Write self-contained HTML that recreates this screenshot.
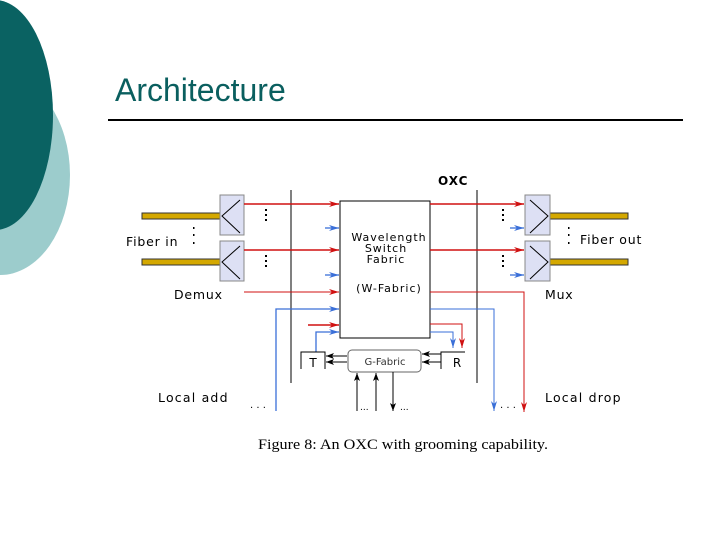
<!DOCTYPE html>
<html><head><meta charset="utf-8"><style>
html,body{margin:0;padding:0;background:#fff;}
svg{display:block;}
text{font-family:"DejaVu Sans","Liberation Sans",sans-serif;}
</style></head><body>
<svg width="720" height="540" viewBox="0 0 720 540" xmlns="http://www.w3.org/2000/svg">
<defs>
<marker id="ar" markerWidth="10" markerHeight="6" refX="10" refY="3" orient="auto" markerUnits="userSpaceOnUse"><path d="M0,0 L10,3 L0,6 L3,3 z" fill="#d01010"/></marker>
<marker id="ab" markerWidth="10" markerHeight="6" refX="10" refY="3" orient="auto" markerUnits="userSpaceOnUse"><path d="M0,0 L10,3 L0,6 L3,3 z" fill="#3a6fd8"/></marker>
<marker id="ak" markerWidth="8" markerHeight="6" refX="8" refY="3" orient="auto" markerUnits="userSpaceOnUse"><path d="M0,0 L8,3 L0,6 L2,3 z" fill="#000"/></marker>
</defs>
<ellipse cx="0" cy="175" rx="70" ry="100" fill="#9ccccc"/>
<ellipse cx="-5" cy="115" rx="58" ry="115" fill="#0a6262"/>
<text x="115" y="101" font-size="32" fill="#0a5f5f" style="font-family:'Liberation Sans',sans-serif">Architecture</text>
<line x1="108" y1="120" x2="683" y2="120" stroke="#000" stroke-width="2"/>

<g font-size="12.5" fill="#000">
<text x="438" y="185" font-weight="bold" font-size="12" letter-spacing="1">OXC</text>
<text x="126" y="246" letter-spacing="0.8">Fiber in</text>
<text x="580" y="244" letter-spacing="0.8">Fiber out</text>
<text x="174" y="299" letter-spacing="0.8">Demux</text>
<text x="545" y="299" letter-spacing="0.8">Mux</text>
<text x="158" y="402" letter-spacing="1.2">Local add</text>
<text x="545" y="402" letter-spacing="1.2">Local drop</text>
<text x="250" y="408" font-size="10">. . .</text>
<text x="500" y="408" font-size="10">. . .</text>
<text x="360" y="410" font-size="9">...</text>
<text x="400" y="410" font-size="9">...</text>
</g>
<g fill="#d4a800" stroke="#333" stroke-width="1">
<rect x="142" y="213" width="78" height="6"/><rect x="142" y="259" width="78" height="6"/>
<rect x="550" y="213" width="78" height="6"/><rect x="550" y="259" width="78" height="6"/>
</g>
<g fill="#dde0f4" stroke="#888" stroke-width="1">
<rect x="220" y="195" width="24" height="40"/><rect x="220" y="241" width="24" height="40"/>
<rect x="525" y="195" width="25" height="40"/><rect x="525" y="241" width="25" height="40"/>
</g>
<g fill="none" stroke="#000" stroke-width="1">
<path d="M240,200 L222,216 L240,233"/><path d="M240,246 L222,262 L240,279"/>
<path d="M530,200 L548,216 L530,233"/><path d="M530,246 L548,262 L530,279"/>
</g>
<g fill="#000">
<rect x="265" y="209" width="2" height="2"/><rect x="265" y="214" width="2" height="2"/><rect x="265" y="219" width="2" height="2"/>
<rect x="265" y="255" width="2" height="2"/><rect x="265" y="260" width="2" height="2"/><rect x="265" y="265" width="2" height="2"/>
<rect x="502" y="209" width="2" height="2"/><rect x="502" y="214" width="2" height="2"/><rect x="502" y="219" width="2" height="2"/>
<rect x="502" y="255" width="2" height="2"/><rect x="502" y="260" width="2" height="2"/><rect x="502" y="265" width="2" height="2"/>
<rect x="193" y="227" width="1.5" height="2"/><rect x="193" y="234" width="1.5" height="2"/><rect x="193" y="242" width="1.5" height="2"/>
<rect x="568" y="227" width="1.5" height="2"/><rect x="568" y="234" width="1.5" height="2"/><rect x="568" y="242" width="1.5" height="2"/>
</g>
<line x1="291" y1="190" x2="291" y2="383" stroke="#000"/>
<line x1="477" y1="190" x2="477" y2="383" stroke="#000"/>
<rect x="340" y="201" width="90" height="137" fill="#fff" stroke="#000"/>
<g font-size="11" text-anchor="middle" letter-spacing="1">
<text x="389" y="241">Wavelength</text><text x="386" y="252">Switch</text><text x="386" y="263">Fabric</text><text x="389" y="292">(W-Fabric)</text>
</g>
<g stroke="#d01010" stroke-width="1.5" fill="none" marker-end="url(#ar)">
<line x1="244" y1="204" x2="339" y2="204"/>
<line x1="244" y1="250" x2="339" y2="250"/>
<line x1="244" y1="292" x2="339" y2="292" stroke-width="1"/>
<line x1="308" y1="325" x2="339" y2="325"/>
<line x1="430" y1="204" x2="524" y2="204"/>
<line x1="430" y1="250" x2="524" y2="250"/>
<path d="M430,292 H524 V412" stroke-width="1"/>
<path d="M430,324 H462 V348" stroke-width="1"/>
</g>
<g stroke="#3a6fd8" stroke-width="1.3" fill="none" marker-end="url(#ab)">
<line x1="325" y1="228" x2="339" y2="228"/>
<line x1="325" y1="275" x2="339" y2="275"/>
<path d="M276,411 V309 H339"/>
<path d="M316,352 V332 H339"/>
<line x1="510" y1="228" x2="524" y2="228"/>
<line x1="510" y1="275" x2="524" y2="275"/>
<path d="M430,309 H494 V411" stroke-width="1"/>
<path d="M430,332 H453 V348" stroke-width="1"/>
</g>
<g stroke="#000" fill="none" stroke-width="1">
<path d="M301,369 V352 H325 V369"/>
<path d="M441,369 V352 H465"/>
<rect x="348" y="350" width="73" height="22" rx="4" fill="#fff" stroke="#666"/>
</g>
<text x="385" y="365" font-size="10" text-anchor="middle" fill="#333">G-Fabric</text>
<text x="313" y="367" font-size="12" text-anchor="middle">T</text>
<text x="457" y="367" font-size="12" text-anchor="middle">R</text>
<g stroke="#000" stroke-width="1" marker-end="url(#ak)">
<line x1="347" y1="356" x2="326" y2="356"/><line x1="347" y1="362" x2="326" y2="362"/>
<line x1="441" y1="354" x2="422" y2="354"/><line x1="441" y1="362" x2="422" y2="362"/>
<line x1="357" y1="411" x2="357" y2="373"/><line x1="376" y1="411" x2="376" y2="373"/>
<line x1="393" y1="372" x2="393" y2="411"/>
</g>
<text x="403" y="449" font-size="14.5" text-anchor="middle" style="font-family:'Liberation Serif',serif" textLength="290" lengthAdjust="spacingAndGlyphs">Figure 8: An OXC with grooming capability.</text>
</svg>
</body></html>
